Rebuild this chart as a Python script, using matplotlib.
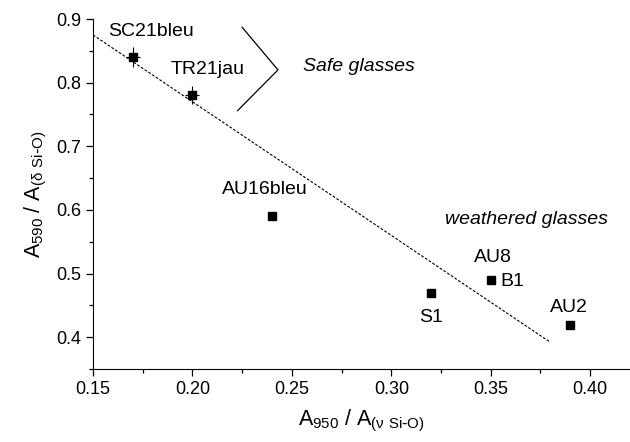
import numpy as np
import matplotlib
matplotlib.use("Agg")
import matplotlib.pyplot as plt
from matplotlib.ticker import MultipleLocator

plt.rcParams['font.family'] = ['Liberation Sans', 'DejaVu Sans']
plt.rcParams['mathtext.default'] = 'regular'

# samples: A950/A(v Si-O) vs A590/A(d Si-O)
names = ['SC21bleu', 'TR21jau', 'AU16bleu', 'S1', 'B1', 'AU2']
x_vals = [0.17, 0.20, 0.24, 0.32, 0.35, 0.39]
y_vals = [0.84, 0.78, 0.59, 0.47, 0.49, 0.42]
x_err = [0.0035, 0.0035, 0, 0, 0, 0]
y_err = [0.016, 0.014, 0, 0, 0, 0]

# label positions (left edge, vertical centre) in data units
label_names = ['SC21bleu', 'TR21jau', 'AU16bleu', 'AU8', 'B1', 'S1', 'AU2']
label_x = [0.1576, 0.1889, 0.215, 0.3414, 0.355, 0.314, 0.380]
label_y = [0.880, 0.820, 0.632, 0.526, 0.487, 0.431, 0.446]

# trend line end points
trend_x = [0.15, 0.38]
trend_y = [0.875, 0.392]

# bracket
bracket_x = [0.225, 0.243, 0.2227]
bracket_y = [0.887, 0.820, 0.756]

fig = plt.figure(figsize=(6.3, 4.42), dpi=100)
ax = fig.add_axes([0.1476, 0.165, 0.8524, 0.792])

ax.plot(trend_x, trend_y, color='black', lw=0.8, dashes=(2.5, 1.5))
ax.errorbar(x_vals, y_vals, xerr=x_err, yerr=y_err, fmt='s', color='black',
            ms=6, elinewidth=0.8, capsize=0)
ax.plot(bracket_x, bracket_y, color='black', lw=0.9)

for name, lx, ly in zip(label_names, label_x, label_y):
    ax.text(lx, ly, name, fontsize=14, ha='left', va='center')

ax.text(0.2556, 0.825, 'Safe glasses', fontsize=14, style='italic', va='center')
ax.text(0.327, 0.585, 'weathered glasses', fontsize=14, style='italic', va='center')

ax.set_xlim(0.15, 0.42)
ax.set_ylim(0.35, 0.9)
ax.xaxis.set_minor_locator(MultipleLocator(0.025))
ax.yaxis.set_minor_locator(MultipleLocator(0.05))
ax.set_xticks([0.15, 0.20, 0.25, 0.30, 0.35, 0.40])
ax.set_xticklabels(['0.15', '0.20', '0.25', '0.30', '0.35', '0.40'])
ax.set_yticks([0.4, 0.5, 0.6, 0.7, 0.8, 0.9])
ax.set_yticklabels(['0.4', '0.5', '0.6', '0.7', '0.8', '0.9'])

ax.spines['top'].set_visible(False)
ax.spines['right'].set_visible(False)
ax.tick_params(which='major', direction='out', length=5, width=0.9, labelsize=13)
ax.tick_params(which='minor', direction='out', length=3, width=0.9)

ax.set_xlabel(r'A$_{950}$ / A$_{(ν\ Si\text{-}O)}$', fontsize=15.5, labelpad=7)
ax.set_ylabel(r'A$_{590}$ / A$_{(δ\ Si\text{-}O)}$', fontsize=15.5, labelpad=5)

fig.savefig('out.png', dpi=100)
